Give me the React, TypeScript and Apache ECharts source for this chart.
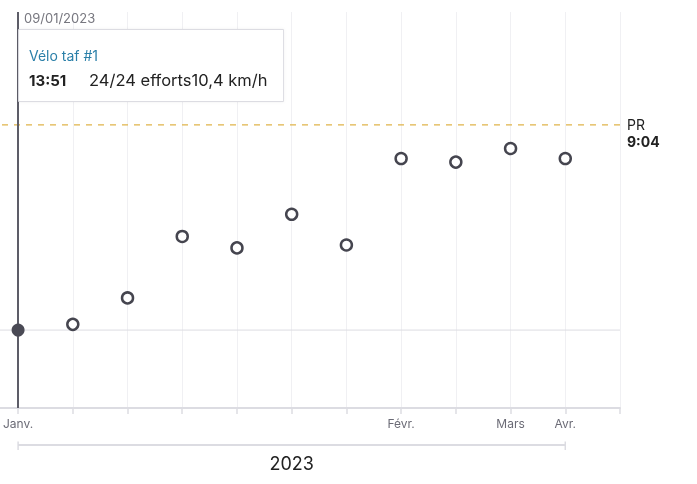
import React, { useEffect, useRef } from "react";
import * as echarts from "echarts";

const categories = ["Janv.", "", "", "", "", "", "", "Févr.", "", "Mars", "Avr.", ""];
const times = [831, 823, 786, 700, 716, 669, 712, 591, 596, 577, 591];
const prTime = 544;
const yMin = 386;
const yMax = 940;
const selectedIndex = 0;
const selectedDate = "09/01/2023";
const activityName = "Vélo taf #1";
const selectedTimeLabel = "13:51";
const effortsLabel = "24/24 efforts";
const speedLabel = "10,4 km/h";
const prLabel = "9:04";
const yearLabel = "2023";
const yearStartIndex = 0;
const yearEndIndex = 10;

const FONT = "Inter, Roboto, 'Noto Sans', sans-serif";

export default function App() {
  const ref = useRef<HTMLDivElement>(null);
  useEffect(() => {
    if (!ref.current) return;
    const chart = echarts.init(ref.current, null, { renderer: "svg" });
    chart.setOption({
      animation: false,
      grid: { left: 15, right: 77, top: 12, bottom: 76 },
      xAxis: {
        type: "category",
        boundaryGap: false,
        data: categories,
        axisLine: { show: true, lineStyle: { color: "#dcdce2", width: 2 } },
        axisTick: { show: true, interval: 0, length: 6, lineStyle: { color: "#dcdce2", width: 1.5 } },
        axisLabel: { interval: 0, color: "#6b6b76", fontSize: 12, fontFamily: FONT, margin: 9 },
        splitLine: { show: true, interval: 0, lineStyle: { color: "#f0f0f3", width: 1 } },
      },
      yAxis: {
        type: "value",
        inverse: true,
        min: yMin,
        max: yMax,
        show: false,
        splitLine: { show: false },
      },
      series: [
        {
          type: "scatter",
          z: 5,
          data: times.map((v, i) =>
            i === selectedIndex
              ? { value: [i, v], symbolSize: 13, itemStyle: { color: "#4a4a55", borderColor: "#4a4a55", borderWidth: 0, opacity: 1 } }
              : { value: [i, v] }
          ),
          symbol: "circle",
          symbolSize: 11,
          itemStyle: { color: "#ffffff", borderColor: "#45454f", borderWidth: 2.5, opacity: 1 },
          markLine: {
            silent: true,
            symbol: "none",
            label: { show: false },
            lineStyle: { color: "#5d5d68", width: 2, type: "solid" },
            data: [{ xAxis: selectedIndex }],
            z: 3,
          },
        },
      ],
    });

    const x0 = chart.convertToPixel({ xAxisIndex: 0 }, 0) as number;
    const xEnd = chart.convertToPixel({ xAxisIndex: 0 }, categories.length - 1) as number;
    const xYs = chart.convertToPixel({ xAxisIndex: 0 }, yearStartIndex) as number;
    const xYe = chart.convertToPixel({ xAxisIndex: 0 }, yearEndIndex) as number;
    const yPR = chart.convertToPixel({ yAxisIndex: 0 }, prTime) as number;
    const ySel = chart.convertToPixel({ yAxisIndex: 0 }, times[selectedIndex]) as number;
    const yBottom = chart.convertToPixel({ yAxisIndex: 0 }, yMax) as number;

    chart.setOption({
      graphic: [
        { type: "line", z: 1, shape: { x1: 0, y1: ySel, x2: xEnd, y2: ySel }, style: { stroke: "#dcdce2", lineWidth: 1 } },
        { type: "line", z: 1, shape: { x1: 2, y1: yPR, x2: xEnd, y2: yPR }, style: { stroke: "#e0b44a", lineWidth: 1.2, lineDash: [6, 6] } },
        { type: "line", z: 1, shape: { x1: 0, y1: yBottom, x2: x0, y2: yBottom }, style: { stroke: "#dcdce2", lineWidth: 2 } },
        { type: "text", z: 10, x: xEnd + 7, y: yPR, style: { text: "PR", fontSize: 14, fontFamily: FONT, fill: "#222", verticalAlign: "middle" } },
        { type: "text", z: 10, x: xEnd + 7, y: yPR + 17, style: { text: prLabel, fontSize: 14, fontWeight: "bold", fontFamily: FONT, fill: "#222", verticalAlign: "middle" } },
        { type: "text", z: 10, x: 24, y: 18, style: { text: selectedDate, fontSize: 13, fontFamily: FONT, fill: "#77777f", verticalAlign: "middle" } },
        { type: "rect", z: 20, shape: { x: x0 + 0.5, y: 29.5, width: 265, height: 72 }, style: { fill: "#ffffff", stroke: "#dcdce2", lineWidth: 1, shadowBlur: 3, shadowColor: "rgba(0,0,0,0.06)" } },
        { type: "text", z: 21, x: 29, y: 55, style: { text: activityName, fontSize: 14, fontFamily: FONT, fill: "#2a7fa8", verticalAlign: "middle" } },
        { type: "text", z: 21, x: 29, y: 80, style: { text: selectedTimeLabel, fontSize: 15, fontWeight: "bold", fontFamily: FONT, fill: "#222", verticalAlign: "middle" } },
        { type: "text", z: 21, x: 89, y: 80, style: { text: effortsLabel + speedLabel, fontSize: 16.5, fontFamily: FONT, fill: "#222", verticalAlign: "middle" } },
        { type: "line", z: 1, shape: { x1: xYs, y1: 445, x2: xYe, y2: 445 }, style: { stroke: "#dcdce2", lineWidth: 2 } },
        { type: "line", z: 1, shape: { x1: xYs, y1: 441.5, x2: xYs, y2: 450 }, style: { stroke: "#dcdce2", lineWidth: 1.5 } },
        { type: "line", z: 1, shape: { x1: xYe, y1: 441.5, x2: xYe, y2: 450 }, style: { stroke: "#dcdce2", lineWidth: 1.5 } },
        { type: "text", z: 10, x: (xYs + xYe) / 2, y: 463, style: { text: yearLabel, fontSize: 18, fontFamily: FONT, fill: "#222", align: "center", verticalAlign: "middle" } },
      ],
    });
    return () => chart.dispose();
  }, []);
  return <div ref={ref} style={{ position: "fixed", left: 0, top: 0, width: 697, height: 484 }} />;
}
